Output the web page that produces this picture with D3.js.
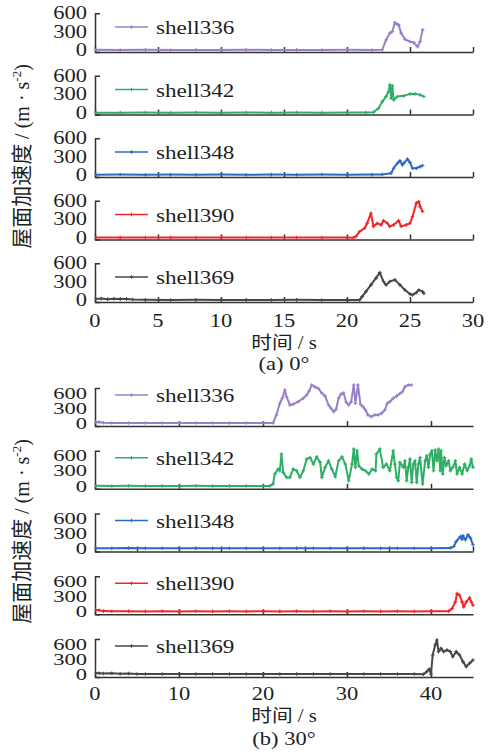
<!DOCTYPE html>
<html>
<head>
<meta charset="utf-8">
<script src="https://cdn.jsdelivr.net/npm/d3@7"></script>
<style>
    body { margin: 0; background: #fff; }
    svg { display: block; }
    .serif { font-family: 'Liberation Serif', 'Times New Roman', serif; fill: #1e1e1e; }
    .cjk { font-family: 'Noto Sans CJK SC', sans-serif; fill: #1e1e1e; }
    .axis path, .axis line { stroke: #333; stroke-width: 1.5; }
</style>
</head>
<body>
<div id="chart"></div>
<script>
var names = ['shell336', 'shell342', 'shell348', 'shell390', 'shell369'];
var colors = ['#9a7fca', '#2fae65', '#2a6bbf', '#f0262c', '#474747'];
var xTicksA = [0, 5, 10, 15, 20, 25, 30];
var xTicksB = [0, 10, 20, 30, 40];
var yTicks = [0, 300, 600];

/* (a) 0 deg, [time s, acceleration] */
var a336 = [[0, 10], [2, 8], [4, 10], [6, 8], [8, 9], [10, 8], [12, 10], [14, 8], [16, 9], [18, 8], [20, 10], [22, 8],
    [22.8, 12], [23.1, 170], [23.4, 280], [23.6, 305], [23.8, 450], [24.0, 420], [24.1, 413], [24.3, 280], [24.6, 180],
    [25.0, 143], [25.3, 127], [25.6, 62], [25.8, 143], [26.0, 332]];
var a342 = [[0, 5], [2, 5], [4, 6], [6, 5], [8, 6], [10, 5], [12, 6], [14, 5], [16, 6], [18, 5], [20, 6], [21.5, 6],
    [22.1, 10], [22.5, 76], [22.8, 183], [23.1, 265], [23.3, 346], [23.4, 454], [23.5, 238], [23.6, 437], [23.7, 211],
    [24.0, 265], [24.5, 276], [25.0, 308], [25.4, 308], [25.8, 292], [26.1, 265]];
var a348 = [[0, 12], [2, 15], [4, 12], [6, 14], [8, 12], [10, 15], [12, 12], [14, 14], [16, 12], [18, 15], [20, 12], [22, 14],
    [22.8, 15], [23.5, 35], [23.7, 117], [24.0, 198], [24.2, 235], [24.4, 170], [24.5, 198], [24.8, 263], [25.0, 208],
    [25.2, 117], [25.5, 117], [25.8, 143], [26.0, 160]];
var a390 = [[0, 8], [2, 6], [4, 8], [6, 6], [8, 7], [10, 6], [12, 8], [14, 6], [16, 7], [18, 6], [20, 7], [20.5, 5],
    [20.7, 22], [21.0, 103], [21.4, 157], [21.6, 238], [21.9, 400], [22.1, 184], [22.4, 238], [22.7, 211], [22.9, 281],
    [23.2, 238], [23.4, 184], [23.7, 211], [24.1, 281], [24.3, 184], [24.7, 211], [25.0, 238], [25.2, 346], [25.5, 562],
    [25.7, 589], [25.8, 508], [26.0, 427]];
var a369 = [[0, 25], [0.5, 30], [1, 20], [1.5, 28], [2, 22], [2.5, 25], [3, 15], [4, 10], [6, 8], [8, 10], [10, 8],
    [12, 9], [14, 8], [16, 10], [18, 8], [20, 9], [21.0, 8], [21.2, 62], [21.5, 143], [21.9, 251], [22.3, 360],
    [22.6, 450], [22.9, 305], [23.1, 251], [23.4, 305], [23.8, 332], [24.2, 251], [24.6, 170], [25.0, 105], [25.2, 89],
    [25.5, 127], [25.7, 170], [26.0, 143], [26.1, 113]];

/* (b) 30 deg */
var b336 = [[0, 25], [0.5, 30], [1, 15], [2, 10], [4, 8], [6, 10], [8, 8], [10, 10], [12, 8], [14, 10], [16, 8], [18, 10],
    [20, 8], [21.2, 10], [21.6, 168], [22.0, 398], [22.3, 497], [22.6, 661], [22.8, 529], [23.2, 365], [23.6, 380],
    [24.2, 430], [24.8, 497], [25.2, 562], [25.5, 640], [25.8, 760], [26.2, 720], [26.6, 690], [27.0, 600], [27.4, 540],
    [27.8, 365], [28.1, 300], [28.4, 233], [28.7, 280], [29.0, 497], [29.3, 580], [29.6, 600], [29.9, 420], [30.2, 365],
    [30.5, 430], [30.8, 760], [31.0, 400], [31.3, 760], [31.6, 380], [31.9, 331], [32.2, 266], [32.5, 168], [32.9, 134],
    [33.3, 168], [33.7, 168], [34.1, 200], [34.5, 266], [34.8, 398], [35.1, 430], [35.5, 497], [35.9, 540], [36.3, 590],
    [36.6, 627], [36.9, 726], [37.3, 760], [37.7, 760]];
var b342 = [[0, 8], [2, 5], [4, 8], [6, 5], [8, 6], [10, 5], [12, 8], [14, 5], [16, 6], [18, 5], [20, 6], [20.8, 5],
    [21.2, 43], [21.4, 240], [21.8, 338], [22.0, 305], [22.2, 634], [22.4, 273], [22.8, 174], [23.2, 174], [23.6, 338],
    [24.0, 305], [24.4, 174], [24.8, 305], [25.2, 535], [25.6, 568], [26.0, 437], [26.4, 581], [26.8, 470], [27.0, 174],
    [27.4, 371], [27.8, 502], [28.2, 338], [28.6, 187], [29.0, 502], [29.4, 581], [29.8, 437], [30.2, 108], [30.6, 437],
    [30.8, 733], [31.0, 371], [31.2, 700], [31.4, 404], [31.8, 338], [32.2, 305], [32.6, 240], [33.0, 338], [33.4, 305],
    [33.5, 634], [33.9, 733], [34.3, 371], [34.7, 437], [35.1, 305], [35.5, 700], [35.7, 437], [35.9, 174], [36.1, 108],
    [36.3, 470], [36.7, 371], [36.9, 502], [37.1, 108], [37.3, 371], [37.5, 535], [37.7, 76], [37.9, 437], [38.1, 502],
    [38.3, 76], [38.5, 437], [38.7, 568], [39.0, 43], [39.3, 502], [39.5, 601], [39.7, 371], [39.9, 634], [40.1, 700],
    [40.3, 305], [40.5, 713], [40.7, 502], [40.9, 733], [41.1, 305], [41.2, 700], [41.4, 240], [41.6, 568], [41.8, 404],
    [42.1, 502], [42.3, 305], [42.6, 371], [42.9, 502], [43.1, 240], [43.4, 371], [43.7, 240], [44.0, 437], [44.3, 305],
    [44.6, 404], [44.8, 535], [45.0, 371]];
var b348 = [[0, 15], [2, 12], [4, 18], [6, 12], [8, 15], [10, 12], [12, 16], [14, 12], [16, 15], [18, 12], [20, 15],
    [22, 12], [24, 16], [26, 12], [28, 15], [30, 12], [32, 16], [34, 12], [36, 15], [38, 13], [40, 15], [42.3, 18],
    [42.7, 50], [43.0, 148], [43.5, 246], [43.7, 194], [43.8, 260], [44.1, 181], [44.4, 279], [44.7, 214], [45.0, 82]];
var b390 = [[0, 40], [0.5, 30], [1, 12], [2, 8], [4, 8], [6, 6], [8, 8], [10, 6], [12, 8], [14, 6], [16, 8], [18, 6],
    [20, 8], [22, 6], [24, 8], [26, 6], [28, 8], [30, 6], [32, 8], [34, 6], [36, 8], [38, 6], [40, 8], [42.1, 8],
    [42.5, 62], [42.9, 194], [43.1, 358], [43.4, 325], [43.7, 194], [43.9, 95], [44.2, 194], [44.6, 273], [44.8, 194],
    [45.0, 128]];
var b369 = [[0, 30], [0.5, 25], [1, 20], [2, 25], [3, 15], [4, 18], [5, 10], [6, 8], [8, 10], [10, 8], [12, 9], [14, 8],
    [16, 10], [18, 8], [20, 9], [22, 8], [24, 9], [26, 8], [28, 9], [30, 8], [32, 9], [34, 8], [36, 9], [38, 8],
    [39.1, 5], [39.5, 56], [39.8, 108], [40.0, 5], [40.2, 384], [40.5, 581], [40.7, 680], [40.9, 450], [41.2, 516],
    [41.5, 450], [41.9, 483], [42.3, 450], [42.6, 351], [43.0, 450], [43.4, 384], [43.8, 253], [44.2, 154], [44.6, 220],
    [45.0, 286]];

var W = 493, H = 755, SX = 1.25;   // the source figure is stretched sideways

var panels = [
    { xMax: 30, xTicks: xTicksA, series: [a336, a342, a348, a390, a369], caption: '(a) 0°',
      firstBottom: 52, step: 62.5, rowH: 38.7, yDomain: [-25, 600], legendOff: 25, tickSize: 18,
      tickY: 327, titleY: 349, captionY: 370, yLabelY: 156.5 },
    { xMax: 45, xTicks: xTicksB, series: [b336, b342, b348, b390, b369], caption: '(b) 30°',
      firstBottom: 426, step: 62.75, rowH: 38, yDomain: [-50, 700], legendOff: 31, tickSize: 16.5,
      tickY: 700, titleY: 722, captionY: 745, yLabelY: 531.5 }
];

var svg = d3.select('#chart').append('svg')
    .attr('width', W)
    .attr('height', H);

function stretched(parent, x, y, text, cls, size, anchor, sx) {
    return parent.append('text')
        .attr('class', cls)
        .attr('transform', 'translate(' + x + ',' + y + ') scale(' + (sx || SX) + ',1)')
        .attr('text-anchor', anchor || 'start')
        .style('font-size', size + 'px')
        .text(text);
}

function marker(sel, color) {
    sel.append('path')
        .attr('d', 'M-1.8,0H1.8M0,-1.8V1.8')
        .attr('stroke', color)
        .attr('stroke-width', 1.1);
}

panels.forEach(function (p, pi) {
    var g = svg.append('g');
    var x = d3.scaleLinear().domain([0, p.xMax]).range([95, 473]);

    p.series.forEach(function (data, i) {
        var bottom = p.firstBottom + i * p.step;
        var y = d3.scaleLinear().domain(p.yDomain).range([bottom, bottom - p.rowH]);
        var color = colors[i];
        var row = g.append('g');

        // shell348 in (b) carries ticks every 5 s
        var ticks = (pi === 1 && i === 2) ? d3.range(0, 46, 5) : p.xTicks;
        row.append('g')
            .attr('class', 'axis')
            .attr('transform', 'translate(0,' + bottom + ')')
            .call(d3.axisBottom(x).tickValues(ticks).tickSizeInner(-5).tickSizeOuter(0).tickFormat(''));
        row.append('g')
            .attr('class', 'axis')
            .attr('transform', 'translate(95,0)')
            .call(d3.axisLeft(y).tickValues([]).tickSizeOuter(-5));

        yTicks.forEach(function (v) {
            var s = SX * 18 / p.tickSize;
            stretched(row, 87, y(v) + p.tickSize * 0.33, v, 'serif', p.tickSize, 'end', s);
        });

        var clipId = 'clip' + pi + '_' + i;
        row.append('clipPath').attr('id', clipId)
            .append('rect')
            .attr('x', 95).attr('y', bottom - p.rowH - 5)
            .attr('width', 380).attr('height', p.rowH + 5);

        var plot = row.append('g').attr('clip-path', 'url(#' + clipId + ')');
        plot.append('path')
            .datum(data)
            .attr('fill', 'none')
            .attr('stroke', color)
            .attr('stroke-width', 2)
            .attr('stroke-linejoin', 'round')
            .attr('d', d3.line().x(function (d) { return x(d[0]); }).y(function (d) { return y(d[1]); }));
        plot.selectAll('.pt')
            .data(data)
            .enter().append('g')
            .attr('transform', function (d) { return 'translate(' + x(d[0]) + ',' + y(d[1]) + ')'; })
            .each(function () { marker(d3.select(this), color); });

        /* Legend */
        var ly = bottom - p.legendOff;
        row.append('line')
            .attr('x1', 115).attr('x2', 148)
            .attr('y1', ly).attr('y2', ly)
            .attr('stroke', color).attr('stroke-width', 1.5);
        marker(row.append('g').attr('transform', 'translate(131.5,' + ly + ')'), color);
        stretched(row, 156, ly + 7, names[i], 'serif', 18.5);

        if (i === 4) {
            p.xTicks.forEach(function (t) {
                stretched(row, x(t), p.tickY, t, 'serif', 18, 'middle');
            });
        }
    });

    /* x title and caption */
    var title = g.append('text')
        .attr('transform', 'translate(284,' + p.titleY + ') scale(1.15,1)')
        .attr('text-anchor', 'middle')
        .style('font-size', '18px');
    title.append('tspan').attr('class', 'cjk').text('时间');
    title.append('tspan').attr('class', 'serif').text(' / s');
    stretched(g, 284, p.captionY, p.caption, 'serif', 18, 'middle');

    /* y title */
    var yl = g.append('text')
        .attr('transform', 'translate(29,' + p.yLabelY + ') rotate(-90)')
        .attr('text-anchor', 'middle')
        .style('font-size', '20px');
    yl.append('tspan').attr('class', 'cjk').style('font-size', '21px').text('屋面加速度');
    yl.append('tspan').attr('class', 'serif').text(' / (m · s');
    yl.append('tspan').attr('class', 'serif').style('font-size', '13px').attr('dy', -8).text('-2');
    yl.append('tspan').attr('class', 'serif').attr('dy', 8).text(')');
});
</script>
</body>
</html>
